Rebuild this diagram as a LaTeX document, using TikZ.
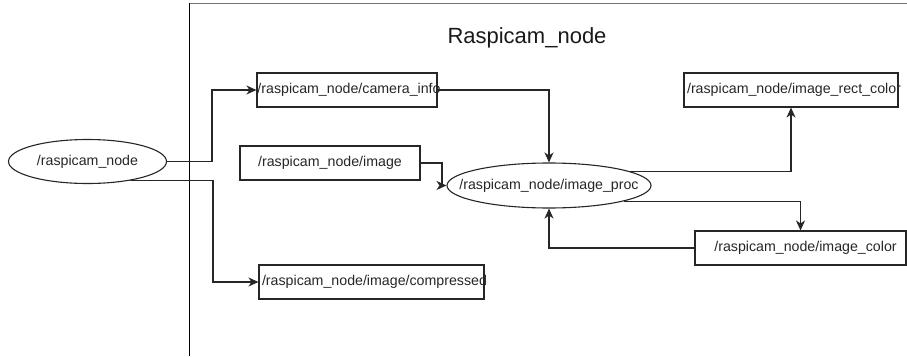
\documentclass[tikz,border=0pt]{standalone}
\usepackage{fontspec}
\setmainfont{Liberation Sans}
\usetikzlibrary{shapes.geometric,arrows.meta}
\begin{document}
\begin{tikzpicture}[x=1pt,y=-1pt,
  every node/.style={font=\fontsize{14.2}{16}\selectfont, text=black!85},
  topic/.style={draw=black!85, line width=1.1pt, rectangle, inner sep=0pt, minimum height=34pt},
  proc/.style={draw=black!85, line width=1.1pt, ellipse, inner sep=0pt},
  conn/.style={draw=black!85, line width=1.2pt, -{Stealth[length=10pt,width=9pt,inset=3pt]}}]
\useasboundingbox (0,0) rectangle (907,356);
% frame
\draw[black!55, line width=1pt] (189,3) -- (907,3);
\draw[black, line width=1pt] (189,356) -- (189,3);
\node[font=\fontsize{22}{26}\selectfont, text=black!90] (title) at (527,38) {Raspicam\_node};
% nodes
\node[proc, minimum width=158pt, minimum height=44pt] (rn) at (87.5,161.5) {\makebox[0pt]{/raspicam\_node}};
\node[topic, minimum width=180pt] (ci) at (347,90) {\makebox[0pt]{\hspace{4pt}/raspicam\_node/camera\_info}};
\node[topic, minimum width=180pt] (img) at (330,163) {\makebox[0pt]{/raspicam\_node/image}};
\node[proc, minimum width=204pt, minimum height=45pt] (pr) at (549,185.5) {\makebox[0pt]{/raspicam\_node/image\_proc}};
\node[topic, minimum width=214pt] (rc) at (791,90) {\makebox[0pt]{\hspace{6pt}/raspicam\_node/image\_rect\_color}};
\node[topic, minimum width=211pt] (col) at (800.5,248) {\makebox[0pt]{\hspace{10pt}/raspicam\_node/image\_color}};
\node[topic, minimum width=225pt] (cmp) at (371.5,282) {\makebox[0pt]{\hspace{6pt}/raspicam\_node/image/compressed}};
% connectors
\coordinate (j1) at (212,161.5);
\coordinate (j2) at (213,282);
\coordinate (j3) at (442,163);
\draw[conn] (rn.east) -- (j1) |- (ci.west);
\draw[conn] (rn.-24) -| (j2) -- (cmp.west);
\draw[conn] (ci.east) -| (pr.north);
\draw[conn] (img.east) -- (j3) |- (pr.west);
\draw[conn] (pr.10) -| (rc.south);
\draw[conn] (pr.-12) -| (col.north);
\draw[conn] (col.west) -| (pr.south);
\end{tikzpicture}
\end{document}
